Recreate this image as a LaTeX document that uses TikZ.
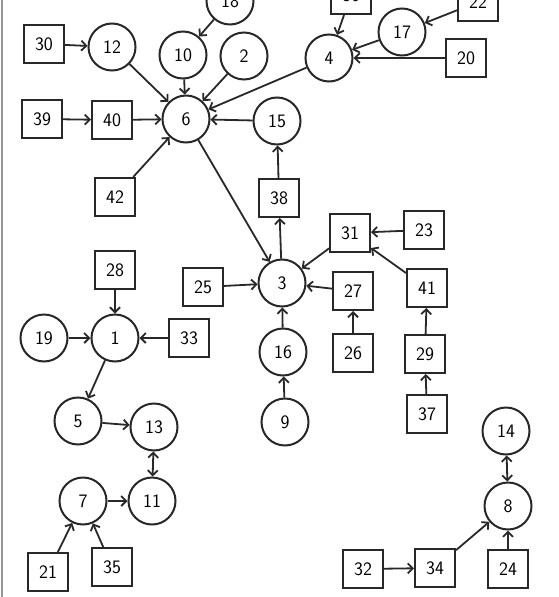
\documentclass[tikz,border=0pt]{standalone}
\usepackage{tikz}
\usetikzlibrary{arrows.meta}
\definecolor{inkgray}{RGB}{40,40,40}
\definecolor{edgegray}{RGB}{150,150,150}

\tikzset{
  ring/.style={circle, draw=inkgray, line width=2pt, minimum size=47pt, inner sep=0pt,
    font=\sffamily\fontsize{19}{19}\selectfont},
  cell/.style={rectangle, draw=inkgray, line width=2pt, minimum width=40pt, minimum height=38pt,
    inner sep=0pt, font=\sffamily\fontsize{19}{19}\selectfont},
  arr/.style={draw=inkgray, line width=1.8pt, -{Straight Barb[length=5pt,width=10pt]}},
  both/.style={draw=inkgray, line width=1.8pt, {Straight Barb[length=5pt,width=10pt]}-{Straight Barb[length=5pt,width=10pt]}}
}

\begin{document}
\begin{tikzpicture}[x=1pt, y=-1pt]
  \useasboundingbox (0,0) rectangle (558,597);
  \fill[white] (0,0) rectangle (558,597);
  \draw[edgegray, line width=2pt] (1.5,0) -- (1.5,597);

  % circles
  \node[ring] (c18) at (230,1) {18};
  \node[ring] (c12) at (112,47) {12};
  \node[ring] (c10) at (183,55) {10};
  \node[ring] (c2) at (244,56) {2};
  \node[ring] (c6) at (186,119) {6};
  \node[ring] (c4) at (329,58) {4};
  \node[ring] (c17) at (402,32) {17};
  \node[ring] (c15) at (277,121) {15};
  \node[ring] (c3) at (282,283) {3};
  \node[ring] (c16) at (283,352) {16};
  \node[ring] (c9) at (285,422) {9};
  \node[ring] (c1) at (115,338) {1};
  \node[ring] (c19) at (44,338) {19};
  \node[ring] (c5) at (78,421) {5};
  \node[ring] (c13) at (154,427) {13};
  \node[ring] (c7) at (83,501) {7};
  \node[ring] (c11) at (152,501) {11};
  \node[ring] (c14) at (506,431) {14};
  \node[ring] (c8) at (508,506) {8};

  % boxes
  \node[cell] (b30) at (44,44) {30};
  \node[cell] (b39) at (42,119) {39};
  \node[cell] (b40) at (112,120) {40};
  \node[cell] (b42) at (115,197) {42};
  \node[cell] (b36) at (351,-5) {36};
  \node[cell] (b22) at (478,2) {22};
  \node[cell] (b20) at (466,58) {20};
  \node[cell] (b38) at (279,198) {38};
  \node[cell] (b31) at (350,233) {31};
  \node[cell] (b23) at (424,230) {23};
  \node[cell] (b27) at (353,291) {27};
  \node[cell] (b41) at (427,288) {41};
  \node[cell] (b26) at (353,353) {26};
  \node[cell] (b29) at (425,354) {29};
  \node[cell] (b37) at (427,414) {37};
  \node[cell] (b25) at (203,287) {25};
  \node[cell] (b28) at (115,270) {28};
  \node[cell] (b33) at (189,338) {33};
  \node[cell] (b21) at (48,572) {21};
  \node[cell] (b35) at (112,567) {35};
  \node[cell] (b32) at (363,569) {32};
  \node[cell] (b34) at (435,568) {34};
  \node[cell] (b24) at (508,569) {24};

  % into 6
  \draw[arr] (b30) -- (c12);
  \draw[arr] (c12) -- (c6);
  \draw[arr] (c18) -- (c10);
  \draw[arr] (c10) -- (c6);
  \draw[arr] (c2) -- (c6);
  \draw[arr] (c4) -- (c6);
  \draw[arr] (b39) -- (b40);
  \draw[arr] (b40) -- (c6);
  \draw[arr] (b42) -- (c6);
  \draw[arr] (c15) -- (c6);
  \draw[arr] (b36) -- (c4);
  \draw[arr] (b22) -- (c17);
  \draw[arr] (c17) -- (c4);
  \draw[arr] (b20) -- (c4);

  % around 3
  \draw[arr] (c6) -- (c3);
  \draw[arr] (c3) -- (b38);
  \draw[arr] (b38) -- (c15);
  \draw[arr] (b31) -- (c3);
  \draw[arr] (b23) -- (b31);
  \draw[arr] (b41) -- (b31);
  \draw[arr] (b27) -- (c3);
  \draw[arr] (b26) -- (b27);
  \draw[arr] (b29) -- (b41);
  \draw[arr] (b37) -- (b29);
  \draw[arr] (b25) -- (c3);
  \draw[arr] (c16) -- (c3);
  \draw[arr] (c9) -- (c16);

  % lower left
  \draw[arr] (b28) -- (c1);
  \draw[arr] (c19) -- (c1);
  \draw[arr] (b33) -- (c1);
  \draw[arr] (c1) -- (c5);
  \draw[arr] (c5) -- (c13);
  \draw[both] (c11) -- (c13);
  \draw[arr] (c7) -- (c11);
  \draw[arr] (b21) -- (c7);
  \draw[arr] (b35) -- (c7);

  % lower right
  \draw[both] (c8) -- (c14);
  \draw[arr] (b34) -- (c8);
  \draw[arr] (b32) -- (b34);
  \draw[arr] (b24) -- (c8);
\end{tikzpicture}
\end{document}
